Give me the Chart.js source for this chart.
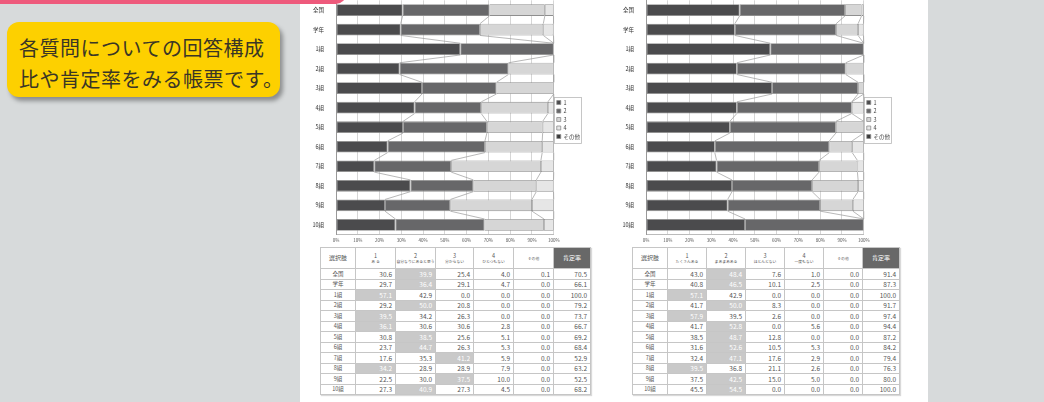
<!DOCTYPE html>
<html lang="ja">
<head>
<meta charset="utf-8">
<script src="https://cdn.jsdelivr.net/npm/chart.js@4.4.1/dist/chart.umd.min.js"></script>
<style>
  body { margin: 0; width: 1044px; height: 402px; overflow: hidden; background: #d7dadb; font-family: "Noto Sans CJK JP", "Noto Sans", sans-serif; position: relative; }
  .pink { position: absolute; left: 0; top: -10px; width: 346px; height: 14px; background: #ee5a7c; border-radius: 0 0 10px 0; z-index: 3; }
  .note { position: absolute; left: 7px; top: 22px; width: 273px; height: 75px; background: #fdd000; border-radius: 12px; box-shadow: 3px 4px 4px rgba(0,0,0,0.35); color: #3a3626; font-size: 20px; line-height: 31px; padding: 10px 0 0 12px; box-sizing: border-box; white-space: nowrap; letter-spacing: 0.5px; }
  .paper { position: absolute; left: 300px; top: 0; width: 628px; height: 402px; background: #fff; }
  canvas { position: absolute; top: -7px; }
  .tbl { position: absolute; top: 247px; display: grid; gap: 1px; padding: 1px; background: #c6c6c6; grid-template-rows: 20px; grid-auto-rows: 9.5px; box-shadow: 1px 1px 1px rgba(0,0,0,0.15); }
  .tbl div { background: #fff; display: flex; align-items: center; justify-content: flex-end; padding-right: 3px; font-size: 6.5px; color: #555; white-space: nowrap; overflow: hidden; }
  .tbl .hd { flex-direction: column; justify-content: center; padding: 0; font-size: 5.5px; line-height: 6px; color: #555; }
  .tbl .hd .sub { font-size: 3.8px; line-height: 5px; }
  .tbl .sel { font-size: 6px; }
  .tbl .rate { background: #686868; color: #fff; font-size: 6px; }
  .tbl .lab { justify-content: center; padding: 0; font-size: 5.5px; }
  .tbl .hi { background: #c9c9c9; color: #fff; }
</style>
</head>
<body>
<div class="pink"></div>
<div class="note">各質問についての回答構成<br>比や肯定率をみる帳票です。</div>
<div class="paper"></div>
<canvas id="chart1" width="290" height="253" style="left:306px"></canvas>
<canvas id="chart2" width="290" height="253" style="left:616px"></canvas>
<div id="table1" class="tbl" style="left:320px"></div>
<div id="table2" class="tbl" style="left:632px"></div>
<script>
const categories = ['全国', '学年', '1組', '2組', '3組', '4組', '5組', '6組', '7組', '8組', '9組', '10組'];
const seriesNames = ['1', '2', '3', '4', 'その他'];

// 左の帳票
const left1 = [30.6, 29.7, 57.1, 29.2, 39.5, 36.1, 30.8, 23.7, 17.6, 34.2, 22.5, 27.3];
const left2 = [39.9, 36.4, 42.9, 50.0, 34.2, 30.6, 38.5, 44.7, 35.3, 28.9, 30.0, 40.9];
const left3 = [25.4, 29.1, 0.0, 20.8, 26.3, 30.6, 25.6, 26.3, 41.2, 28.9, 37.5, 27.3];
const left4 = [4.0, 4.7, 0.0, 0.0, 0.0, 2.8, 5.1, 5.3, 5.9, 7.9, 10.0, 4.5];
const leftOther = [0.1, 0.0, 0.0, 0.0, 0.0, 0.0, 0.0, 0.0, 0.0, 0.0, 0.0, 0.0];
const leftRate = [70.5, 66.1, 100.0, 79.2, 73.7, 66.7, 69.2, 68.4, 52.9, 63.2, 52.5, 68.2];
const leftHeads = ['あ る', '自分なりにあると思う', '分からない', 'ひとつもない'];

// 右の帳票
const right1 = [43.0, 40.8, 57.1, 41.7, 57.9, 41.7, 38.5, 31.6, 32.4, 39.5, 37.5, 45.5];
const right2 = [48.4, 46.5, 42.9, 50.0, 39.5, 52.8, 48.7, 52.6, 47.1, 36.8, 42.5, 54.5];
const right3 = [7.6, 10.1, 0.0, 8.3, 2.6, 0.0, 12.8, 10.5, 17.6, 21.1, 15.0, 0.0];
const right4 = [1.0, 2.5, 0.0, 0.0, 0.0, 5.6, 0.0, 5.3, 2.9, 2.6, 5.0, 0.0];
const rightOther = [0.0, 0.0, 0.0, 0.0, 0.0, 0.0, 0.0, 0.0, 0.0, 0.0, 0.0, 0.0];
const rightRate = [91.4, 87.3, 100.0, 91.7, 97.4, 94.4, 87.2, 84.2, 79.4, 76.3, 80.0, 100.0];
const rightHeads = ['たくさんある', 'まあまあある', 'ほとんどない', '一度もない'];

const xTicks = [0, 10, 20, 30, 40, 50, 60, 70, 80, 90, 100];

const fills = ['#4b4b4d', '#676769', '#d6d6d6', '#e6e6e6', '#3a3a3a'];

// 区分線（各系列の境目を隣の棒とつなぐ）
const seriesLines = {
  id: 'seriesLines',
  afterDatasetsDraw(chart) {
    const ctx = chart.ctx;
    ctx.save();
    ctx.strokeStyle = '#9a9a9a';
    ctx.lineWidth = 0.7;
    for (let k = 0; k < 4; k++) {
      const bars = chart.getDatasetMeta(k).data;
      for (let i = 0; i < bars.length - 1; i++) {
        const a = bars[i], b = bars[i + 1];
        ctx.beginPath();
        ctx.moveTo(a.x, a.y + a.height / 2);
        ctx.lineTo(b.x, b.y - b.height / 2);
        ctx.stroke();
      }
    }
    ctx.restore();
  }
};

const legendBorder = {
  id: 'legendBorder',
  afterDraw(chart) {
    const boxes = chart.legend.legendHitBoxes;
    if (!boxes || !boxes.length) return;
    const l = Math.min(...boxes.map(b => b.left)) - 3;
    const t = Math.min(...boxes.map(b => b.top)) - 3;
    const r = Math.max(...boxes.map(b => b.left + b.width)) + 1;
    const btm = Math.max(...boxes.map(b => b.top + b.height)) + 3;
    const ctx = chart.ctx;
    ctx.save();
    ctx.strokeStyle = '#b8b8b8';
    ctx.lineWidth = 0.8;
    ctx.strokeRect(Math.round(l) + 0.5, Math.round(t) + 0.5, Math.round(r - l), Math.round(btm - t));
    ctx.restore();
  }
};

function drawBarChart(id, series) {
  const ctx = document.getElementById(id).getContext('2d');
  new Chart(ctx, {
    type: 'bar',
    data: {
      labels: categories,
      datasets: series.map((d, i) => ({
        label: seriesNames[i],
        data: d,
        backgroundColor: fills[i],
        borderColor: '#8e8e8e',
        borderWidth: 0.8,
        borderSkipped: false,
        categoryPercentage: 0.6,
        barPercentage: 1
      }))
    },
    options: {
      indexAxis: 'y',
      responsive: false,
      animation: false,
      layout: { padding: { top: 0, right: 6 } },
      plugins: {
        legend: {
          position: 'right',
          labels: { boxWidth: 4, boxHeight: 4, padding: 3, color: '#444', font: { family: 'Noto Sans CJK JP', size: 5.5 } }
        },
        tooltip: { enabled: false }
      },
      scales: {
        x: {
          stacked: true,
          min: 0,
          max: 100,
          afterBuildTicks: s => { s.ticks = xTicks.map(v => ({ value: v })); },
          ticks: { callback: v => v + '%', color: '#555', padding: 3, maxRotation: 0, font: { family: 'Noto Sans CJK JP', size: 4.5 } },
          grid: { color: '#d6d6d6', drawTicks: false },
          border: { color: '#bbb' }
        },
        y: {
          stacked: true,
          afterFit: s => { s.width = 30; },
          ticks: { color: '#333', padding: 4, font: { family: 'Noto Sans CJK JP', size: 5.5 } },
          grid: { display: false },
          border: { color: '#999' }
        }
      }
    },
    plugins: [seriesLines, legendBorder]
  });
}

function buildTable(id, cols, rate, heads, widths) {
  const tbl = document.getElementById(id);
  tbl.style.gridTemplateColumns = widths.map(w => w + 'px').join(' ');
  let html = '<div class="hd sel">選択肢</div>';
  heads.forEach((h, i) => { html += `<div class="hd"><span>${i + 1}</span><span class="sub">${h}</span></div>`; });
  html += '<div class="hd"><span class="sub">その他</span></div><div class="hd rate">肯定率</div>';
  categories.forEach((c, r) => {
    const vals = cols.map(col => col[r]);
    const top = Math.max(...vals.slice(0, 4));
    html += `<div class="lab">${c}</div>`;
    vals.forEach((v, j) => {
      const hi = j < 4 && v === top ? ' class="hi"' : '';
      html += `<div${hi}>${v.toFixed(1)}</div>`;
    });
    html += `<div>${rate[r].toFixed(1)}</div>`;
  });
  tbl.innerHTML = html;
}

window.addEventListener('DOMContentLoaded', () => {
  drawBarChart('chart1', [left1, left2, left3, left4, leftOther]);
  drawBarChart('chart2', [right1, right2, right3, right4, rightOther]);
  buildTable('table1', [left1, left2, left3, left4, leftOther], leftRate, leftHeads, [34, 39, 39, 37, 39, 39, 36]);
  buildTable('table2', [right1, right2, right3, right4, rightOther], rightRate, rightHeads, [34, 38, 38, 38, 38, 38, 36]);
});
</script>
</body>
</html>
